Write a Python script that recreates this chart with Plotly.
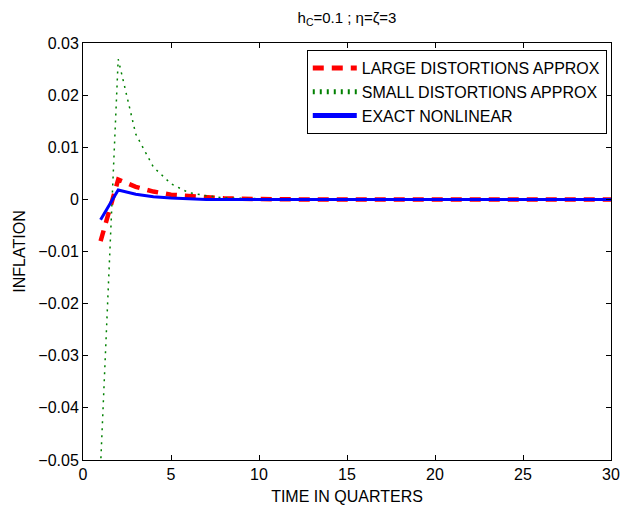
import plotly.graph_objects as go

quarters = list(range(1, 31))
large_approx = [-0.0080, 0.0038, 0.0024, 0.0015, 0.0009, 0.0006, 0.0004, 0.0002, 0.0001] + [0.0] * 21
small_approx = [-0.0510, 0.0269, 0.0125, 0.0062, 0.0030, 0.0013, 0.0007, 0.0003,
                0.0002, 0.0001] + [0.0] * 20
exact_nonlinear = [-0.0039, 0.0018, 0.0010, 0.0005, 0.00025, 0.0001] + [0.0] * 24

y_ticks = [0.03, 0.02, 0.01, 0, -0.01, -0.02, -0.03, -0.04, -0.05]
y_tick_text = ["0.03", "0.02", "0.01", "0", "\u22120.01", "\u22120.02", "\u22120.03", "\u22120.04", "\u22120.05"]
x_ticks = [0, 5, 10, 15, 20, 25, 30]

font = "Liberation Sans, Arial, sans-serif"
fs = 16

fig = go.Figure()
fig.add_trace(go.Scatter(x=quarters, y=large_approx, mode="lines", name="LARGE DISTORTIONS APPROX",
                         line=dict(color="#ff0000", width=4.5, dash="11px,8px")))
fig.add_trace(go.Scatter(x=quarters, y=small_approx, mode="lines", name="SMALL DISTORTIONS APPROX",
                         line=dict(color="#008000", width=1.5, dash="2px,5px")))
fig.add_trace(go.Scatter(x=quarters, y=exact_nonlinear, mode="lines", name="EXACT NONLINEAR",
                         line=dict(color="#0000ff", width=3)))

axis_common = dict(showgrid=False, zeroline=False, showline=True, linecolor="black", linewidth=1,
                   mirror="ticks", ticks="inside", ticklen=5, tickcolor="black", automargin=False,
                   tickfont=dict(family=font, size=fs, color="black"))

fig.update_layout(
    width=622, height=506,
    margin=dict(l=83, r=11, t=43, b=46),
    paper_bgcolor="white", plot_bgcolor="white",
    font=dict(family=font, size=fs, color="black"),
    title=dict(text="h<sub>C</sub>=0.1 ; \u03b7=\u03b6=3", xref="paper", x=0.5, xanchor="center",
               y=0.975, yanchor="top",
               font=dict(family=font, size=15, color="black")),
    xaxis=dict(range=[0, 30], tickvals=x_ticks,
               title=dict(text="TIME IN QUARTERS", standoff=8, font=dict(family=font, size=fs)),
               **axis_common),
    yaxis=dict(range=[-0.05, 0.03], tickvals=y_ticks, ticktext=y_tick_text,
               title=dict(text="INFLATION", standoff=8, font=dict(family=font, size=fs)),
               **axis_common),
    legend=dict(x=0.992, xanchor="right", y=0.983, yanchor="top", bgcolor="white",
                bordercolor="black", borderwidth=1, itemwidth=44,
                font=dict(family=font, size=fs, color="black"),
                tracegroupgap=0, itemsizing="constant"),
    showlegend=True,
)

fig.write_html("out.html", config={"displayModeBar": False},
               post_script="document.body.style.margin='0';document.body.style.overflow='hidden';")
